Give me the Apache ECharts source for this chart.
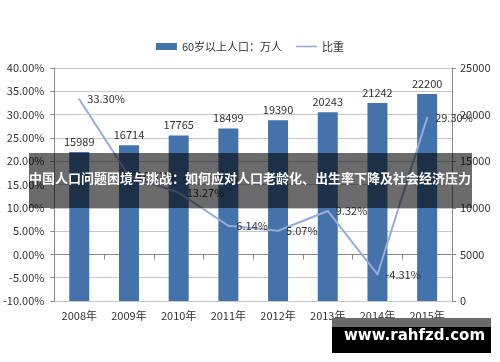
<!DOCTYPE html>
<html><head><meta charset="utf-8">
<script src="https://cdn.jsdelivr.net/npm/echarts@6/dist/echarts.min.js"></script>
<style>html,body{margin:0;padding:0;background:#fff}#c{width:500px;height:362px}</style>
</head><body><div id="c"></div>
<script>
const categories = ['2008年','2009年','2010年','2011年','2012年','2013年','2014年','2015年'];
const population = [15989, 16714, 17765, 18499, 19390, 20243, 21242, 22200];
const ratio = [33.30, 16.81, 13.27, 6.14, 5.07, 9.32, -4.31, 29.30];
const barName = '60岁以上人口：万人';
const lineName = '比重';
const bannerText = '中国人口问题困境与挑战：如何应对人口老龄化、出生率下降及社会经济压力';
const watermark = 'www.rahfzd.com';

const font = '"Noto Sans CJK SC", "Noto Sans", sans-serif';
const chart = echarts.init(document.getElementById('c'));
chart.setOption({
  animation: false,
  textStyle: {fontFamily: font},
  legend: {
    top: 36, left: 'center', itemGap: 14, itemWidth: 21, itemHeight: 7,
    textStyle: {fontSize: 11, color: '#333', fontFamily: font},
    data: [
      {name: barName, icon: 'rect'},
      {name: lineName, icon: 'path://M0,6 L20,6 L20,7.5 L0,7.5 Z', itemStyle: {color: '#97acd6', opacity: 1}}
    ]
  },
  grid: {left: 51, right: 48, top: 68, bottom: 61},
  xAxis: {
    type: 'category', data: categories,
    axisLine: {show: true, lineStyle: {color: '#888'}},
    axisTick: {show: true, alignWithLabel: false, length: 5, lineStyle: {color: '#888'}},
    axisLabel: {fontSize: 11, color: '#333', margin: 9, fontFamily: font}
  },
  yAxis: [
    {
      type: 'value', min: -10, max: 40, interval: 5,
      axisLine: {show: true, lineStyle: {color: '#888'}},
      axisTick: {show: true, length: 4, lineStyle: {color: '#888'}},
      axisLabel: {fontSize: 11, color: '#333', margin: 10, fontFamily: font,
        formatter: v => v.toFixed(2) + '%'},
      splitLine: {show: true, lineStyle: {color: '#c8c8c8'}}
    },
    {
      type: 'value', min: 0, max: 25000, interval: 5000,
      axisLine: {show: true, lineStyle: {color: '#888'}},
      axisTick: {show: true, length: 4, lineStyle: {color: '#888'}},
      axisLabel: {fontSize: 11, color: '#333', margin: 8, fontFamily: font,
        formatter: v => String(v)},
      splitLine: {show: false}
    }
  ],
  series: [
    {
      name: barName, type: 'bar', yAxisIndex: 1, data: population, barWidth: 20,
      itemStyle: {color: '#4472aa'},
      label: {show: true, position: 'top', distance: 5, fontSize: 11, color: '#333', fontFamily: font}
    },
    {
      name: lineName, type: 'line', yAxisIndex: 0, data: ratio,
      symbol: 'circle', symbolSize: 2, showSymbol: true,
      lineStyle: {color: '#97acd6', width: 2},
      itemStyle: {color: '#97acd6'},
      label: {show: true, position: 'right', distance: 7, fontSize: 11, color: '#333', fontFamily: font,
        formatter: p => p.value.toFixed(2) + '%'}
    }
  ],
  graphic: [
    {type: 'rect', left: 29, top: 153, z: 100,
      shape: {width: 443, height: 55}, style: {fill: 'rgba(0,0,0,0.58)'}},
    {type: 'text', left: 'center', top: 172, z: 101,
      style: {text: bannerText, fill: '#fff', font: 'bold 13px "Noto Sans CJK SC", sans-serif'}},
    {type: 'rect', left: 332, top: 318, z: 100,
      shape: {width: 159, height: 9}, style: {fill: '#6b6b6b'}},
    {type: 'rect', left: 332, top: 327, z: 100,
      shape: {width: 159, height: 26}, style: {fill: '#000'}},
    {type: 'text', left: 344, top: 329, z: 101,
      style: {text: watermark, fill: '#fff', font: 'bold 15px "DejaVu Sans", sans-serif'}}
  ]
});
</script>
</body></html>
